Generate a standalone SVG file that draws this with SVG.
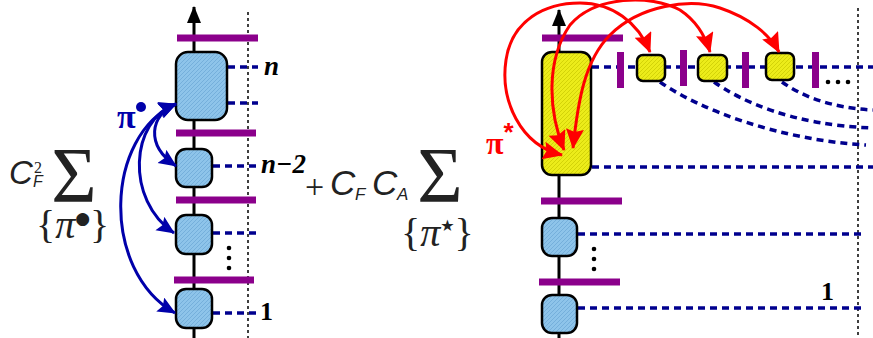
<svg xmlns="http://www.w3.org/2000/svg" width="873" height="338" viewBox="0 0 873 338">
<defs>
<style>
.axis{stroke:#000;stroke-width:3;fill:none}
.bar{fill:#8b008b}
.bbox{fill:url(#hb);stroke:#000;stroke-width:2.5}
.ybox{fill:url(#hy);stroke:#000;stroke-width:2.5}
.dash{stroke:#00008e;stroke-width:3.5;stroke-dasharray:7 5;fill:none}
.vdot{stroke:#000;stroke-width:1.5;stroke-dasharray:3 3;fill:none}
.blue{stroke:#0000aa;stroke-width:3;fill:none}
.red{stroke:#ff0000;stroke-width:3;fill:none}
.lab{font-family:"Liberation Serif",serif;font-weight:bold;font-style:italic;font-size:27px;fill:#000}
.num{font-family:"Liberation Serif",serif;font-weight:bold;font-size:26px;fill:#000}
.cm{font-family:"Liberation Sans",sans-serif;font-style:italic;fill:#222}
.sr{font-family:"Liberation Serif",serif;fill:#222}
</style>
<pattern id="hb" width="4" height="4" patternUnits="userSpaceOnUse">
<rect width="4" height="4" fill="#8ec4ea"/><path d="M0,4 L4,0" stroke="#6aa6d4" stroke-width="0.7"/>
</pattern>
<pattern id="hy" width="4" height="4" patternUnits="userSpaceOnUse">
<rect width="4" height="4" fill="#ecec1a"/><path d="M0,4 L4,0" stroke="#c8c800" stroke-width="0.7"/>
</pattern>
<marker id="ab" markerUnits="userSpaceOnUse" markerWidth="20" markerHeight="18" refX="17" refY="8" orient="auto-start-reverse">
<path d="M0,0 L18,8 L0,16 L3,8 Z" fill="#0000aa"/>
</marker>
<marker id="ar" markerUnits="userSpaceOnUse" markerWidth="22" markerHeight="20" refX="19" refY="9" orient="auto-start-reverse">
<path d="M0,0 L20,9 L0,18 L3,9 Z" fill="#ff0000"/>
</marker>
<marker id="ak" markerUnits="userSpaceOnUse" markerWidth="18" markerHeight="16" refX="16" refY="7" orient="auto">
<path d="M0,0 L17,7 L0,14 Z" fill="#000"/>
</marker>
</defs>
<rect width="873" height="338" fill="#fff"/>

<!-- formula left -->
<g id="formula-left">
<text class="cm" x="9" y="184" font-size="33">C</text>
<text class="sr" x="34" y="173" font-size="16">2</text>
<text class="cm" x="33" y="187" font-size="16">F</text>
<text class="sr" x="74" y="201" font-size="78" text-anchor="middle">Σ</text>
<text class="sr" x="36" y="238" font-size="40">{<tspan font-style="italic">π</tspan><tspan dy="-14" font-size="17" font-family="DejaVu Sans">●</tspan><tspan dy="14">}</tspan></text>
</g>

<!-- formula right -->
<g id="formula-right">
<text class="sr" x="305" y="198" font-size="34">+</text>
<text class="cm" x="330" y="195" font-size="35">C</text>
<text class="cm" x="355" y="200" font-size="17">F</text>
<text class="cm" x="372" y="195" font-size="35">C</text>
<text class="cm" x="397" y="200" font-size="17">A</text>
<text class="sr" x="440" y="201" font-size="78" text-anchor="middle">Σ</text>
<text class="sr" x="401" y="246" font-size="40">{<tspan font-style="italic">π</tspan><tspan dy="-15" font-size="16" font-family="DejaVu Sans">★</tspan><tspan dy="15">}</tspan></text>
</g>

<!-- left diagram -->
<line class="vdot" x1="248" y1="12" x2="248" y2="338"/>
<line class="axis" x1="194" y1="338" x2="194" y2="7" marker-end="url(#ak)"/>
<g id="left-bars">
<rect class="bar" x="177" y="34.5" width="81" height="7"/>
<rect class="bar" x="176" y="129.5" width="80" height="7"/>
<rect class="bar" x="176" y="196.5" width="80" height="7"/>
<rect class="bar" x="174" y="276.5" width="80" height="7"/>
</g>
<g id="left-lines">
<line class="dash" x1="228" y1="67" x2="258" y2="67"/>
<line class="dash" x1="228" y1="103" x2="258" y2="103"/>
<line class="dash" x1="213" y1="166" x2="258" y2="166"/>
<line class="dash" x1="213" y1="233" x2="258" y2="233"/>
<line class="dash" x1="213" y1="313" x2="258" y2="313"/>
</g>
<g id="left-box-n"><rect class="bbox" x="176" y="52" width="51" height="68" rx="12"/></g>
<g id="left-box-n2"><rect class="bbox" x="176" y="149" width="36" height="38" rx="10"/></g>
<g id="left-box-k"><rect class="bbox" x="176" y="215" width="36" height="39" rx="10"/></g>
<g id="left-box-1"><rect class="bbox" x="176" y="289" width="36" height="39" rx="10"/></g>
<g id="left-dots" fill="#000">
<circle cx="229" cy="248" r="2.3"/><circle cx="229" cy="258" r="2.3"/><circle cx="229" cy="268" r="2.3"/>
</g>
<text class="lab" x="264" y="75">n</text>
<text class="lab" x="261" y="173">n−2</text>
<text class="num" x="260" y="320">1</text>

<g id="left-connectors">
<path class="blue" d="M176,104 C150,115 145,145 176,166" marker-start="url(#ab)" marker-end="url(#ab)"/>
<path class="blue" d="M176,104 C130,120 125,200 174,233" marker-start="url(#ab)" marker-end="url(#ab)"/>
<path class="blue" d="M176,104 C105,135 100,270 175,313" marker-start="url(#ab)" marker-end="url(#ab)"/>
</g>
<g id="label-pi-bullet" fill="#0000aa">
<text x="117" y="128" font-family="Liberation Serif,serif" font-weight="bold" font-size="34">π</text>
<circle cx="141" cy="107" r="5"/>
</g>

<!-- right diagram -->
<line class="vdot" x1="858" y1="8" x2="858" y2="338"/>
<line class="axis" x1="559" y1="338" x2="559" y2="10" marker-end="url(#ak)"/>
<g id="right-lines">
<line class="dash" x1="592" y1="67" x2="873" y2="67"/>
<line class="dash" x1="592" y1="167" x2="873" y2="167"/>
<line class="dash" x1="578" y1="234" x2="866" y2="234"/>
<line class="dash" x1="578" y1="308" x2="866" y2="308"/>
<path class="dash" d="M660,82 C700,110 780,140 866,145"/>
<path class="dash" d="M714,82 C740,100 790,125 873,128"/>
<path class="dash" d="M782,82 C800,95 830,108 873,110"/>
</g>
<g id="right-bars">
<rect class="bar" x="542" y="34.5" width="81" height="7"/>
<rect class="bar" x="541" y="197.5" width="81" height="7"/>
<rect class="bar" x="539" y="278.5" width="81" height="7"/>
<rect class="bar" x="617" y="52" width="7" height="36"/>
<rect class="bar" x="680" y="50" width="7" height="36"/>
<rect class="bar" x="742" y="52" width="7" height="36"/>
<rect class="bar" x="812" y="52" width="7" height="36"/>
</g>
<g id="right-big"><rect class="ybox" x="542" y="52" width="49" height="123" rx="10"/></g>
<g id="right-a"><rect class="ybox" x="637" y="55" width="28" height="26" rx="6"/></g>
<g id="right-b"><rect class="ybox" x="698" y="55" width="29" height="26" rx="6"/></g>
<g id="right-c"><rect class="ybox" x="766" y="53" width="28" height="27" rx="6"/></g>
<g id="right-blue1"><rect class="bbox" x="542" y="218" width="35" height="38" rx="10"/></g>
<g id="right-blue2"><rect class="bbox" x="542" y="295" width="35" height="38" rx="10"/></g>
<g id="right-dots" fill="#000">
<circle cx="828" cy="82" r="2.3"/><circle cx="838" cy="82" r="2.3"/><circle cx="848" cy="82" r="2.3"/>
<circle cx="594" cy="249" r="2.3"/><circle cx="594" cy="259" r="2.3"/><circle cx="594" cy="269" r="2.3"/>
</g>
<text class="num" x="821" y="300">1</text>

<g id="right-connectors">
<path class="red" d="M562,155 C520,145 500,100 506,60 C512,20 545,3 580,3 C612,3 638,22 650,52" marker-start="url(#ar)" marker-end="url(#ar)"/>
<path class="red" d="M564,150 C548,110 546,60 570,25 C595,-4 650,-6 680,10 C695,20 705,35 710,52" marker-start="url(#ar)" marker-end="url(#ar)"/>
<path class="red" d="M573,148 C578,100 585,60 610,35 C640,5 690,-2 720,8 C750,18 770,35 779,52" marker-start="url(#ar)" marker-end="url(#ar)"/>
</g>
<g id="label-pi-star" fill="#ff0000">
<text x="486" y="154" font-family="Liberation Serif,serif" font-weight="bold" font-size="32">π<tspan dy="-13" font-size="26" font-family="Liberation Sans,sans-serif">*</tspan></text>
</g>
</svg>
